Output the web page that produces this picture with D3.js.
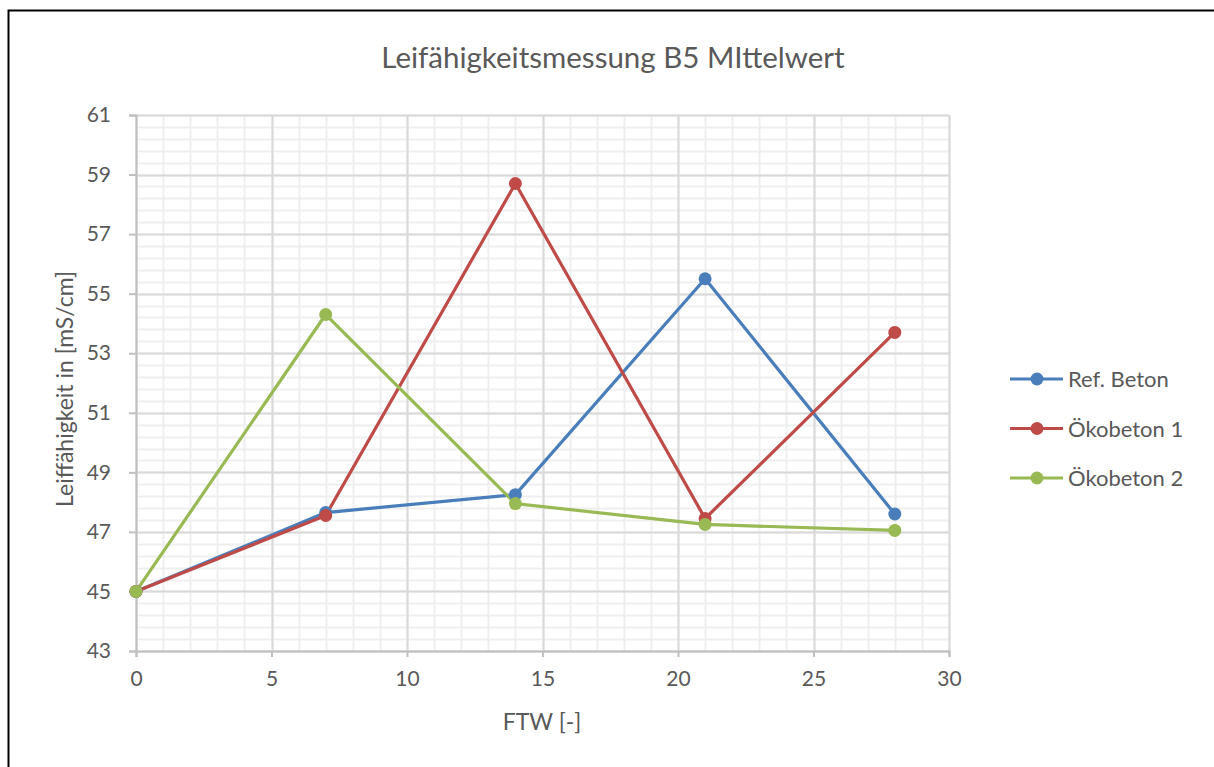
<!DOCTYPE html>
<html>
<head>
<meta charset="utf-8">
<script src="https://cdn.jsdelivr.net/npm/d3@7"></script>
<style>
  html, body { margin: 0; padding: 0; background: #fff; }
  svg { display: block; }
  text { font-family: Lato, "Open Sans", sans-serif; fill: #595959; }
</style>
</head>
<body>
<svg id="chart" width="1214" height="767"></svg>
<script>
// Measurement days (freeze-thaw cycles)
const days = [0, 7, 14, 21, 28];
// Mean conductivity per mix in mS/cm
const refBeton   = [45.0, 47.65, 48.25, 55.5, 47.6];
const oekobeton1 = [45.0, 47.55, 58.7, 47.45, 53.7];
const oekobeton2 = [45.0, 54.3, 47.95, 47.25, 47.05];
const seriesNames = ["Ref. Beton", "Ökobeton 1", "Ökobeton 2"];
const seriesColors = ["#4a7ebb", "#be4b48", "#98b954"];
const xTicks = [0, 5, 10, 15, 20, 25, 30];
const yTicks = [43, 45, 47, 49, 51, 53, 55, 57, 59, 61];

const series = [refBeton, oekobeton1, oekobeton2].map((vals, i) => ({
  name: seriesNames[i],
  color: seriesColors[i],
  points: days.map((d, j) => ({ x: d, y: vals[j] }))
}));

const svg = d3.select("#chart");

// outer chart frame
svg.append("rect")
  .attr("x", 8.5).attr("y", 10.5)
  .attr("width", 1230).attr("height", 800)
  .attr("fill", "#fff").attr("stroke", "#000").attr("stroke-width", 2);

const plot = { left: 136, right: 949, top: 115, bottom: 651 };

const x = d3.scaleLinear().domain([0, 30]).range([plot.left, plot.right]);
const y = d3.scaleLinear().domain([43, 61]).range([plot.bottom, plot.top]);

const g = svg.append("g");

// minor grid
const xMinor = d3.range(0, 30.001, 1);
const yMinor = d3.range(43, 61.001, 0.4);
g.selectAll(".xminor").data(xMinor).join("line")
  .attr("x1", d => Math.round(x(d)) + 0.5).attr("x2", d => Math.round(x(d)) + 0.5)
  .attr("y1", plot.top).attr("y2", plot.bottom)
  .attr("stroke", "#efefef").attr("stroke-width", 2);
g.selectAll(".yminor").data(yMinor).join("line")
  .attr("x1", plot.left).attr("x2", plot.right)
  .attr("y1", d => Math.round(y(d)) + 0.5).attr("y2", d => Math.round(y(d)) + 0.5)
  .attr("stroke", "#efefef").attr("stroke-width", 2);

// major grid
g.selectAll(".xmajor").data(xTicks).join("line")
  .attr("x1", d => Math.round(x(d)) + 0.5).attr("x2", d => Math.round(x(d)) + 0.5)
  .attr("y1", plot.top).attr("y2", plot.bottom)
  .attr("stroke", "#d9d9d9").attr("stroke-width", 2);
g.selectAll(".ymajor").data(yTicks).join("line")
  .attr("x1", plot.left).attr("x2", plot.right)
  .attr("y1", d => Math.round(y(d)) + 0.5).attr("y2", d => Math.round(y(d)) + 0.5)
  .attr("stroke", "#d9d9d9").attr("stroke-width", 2);

// axes
const xAxis = d3.axisBottom(x).tickValues(xTicks).tickSize(6).tickPadding(14);
const yAxis = d3.axisLeft(y).tickValues(yTicks).tickSize(7).tickPadding(18);

const gx = svg.append("g").attr("transform", `translate(0,${plot.bottom})`).call(xAxis);
const gy = svg.append("g").attr("transform", `translate(${plot.left},0)`).call(yAxis);
[gx, gy].forEach(a => {
  a.select(".domain").attr("stroke", "#bfbfbf").attr("stroke-width", 2);
  a.selectAll(".tick line").attr("stroke", "#bfbfbf").attr("stroke-width", 2);
  a.selectAll(".tick text").attr("fill", "#595959")
    .style("font-family", "Lato, sans-serif").style("font-size", "21px");
});

// lines and markers
const line = d3.line().x(d => x(d.x)).y(d => y(d.y));
series.forEach(s => {
  svg.append("path").datum(s.points)
    .attr("d", line).attr("fill", "none")
    .attr("stroke", s.color).attr("stroke-width", 3.2)
    .attr("stroke-linejoin", "round");
});
series.forEach(s => {
  svg.selectAll(null).data(s.points).join("circle")
    .attr("cx", d => x(d.x)).attr("cy", d => y(d.y)).attr("r", 6.5)
    .attr("fill", s.color);
});

// title
svg.append("text")
  .attr("x", 613).attr("y", 68)
  .attr("text-anchor", "middle")
  .style("font-size", "29.5px")
  .text("Leifähigkeitsmessung B5 MIttelwert");

// axis titles
svg.append("text")
  .attr("x", 542).attr("y", 730)
  .attr("text-anchor", "middle")
  .style("font-size", "23px")
  .text("FTW [-]");
svg.append("text")
  .attr("transform", `translate(73,${(plot.top + plot.bottom) / 2 + 6}) rotate(-90)`)
  .attr("text-anchor", "middle")
  .style("font-size", "23px")
  .text("Leiffähigkeit in [mS/cm]");

// legend
const legend = svg.append("g");
series.forEach((s, i) => {
  const ly = 379 + i * 49.5;
  legend.append("line")
    .attr("x1", 1010).attr("x2", 1063).attr("y1", ly).attr("y2", ly)
    .attr("stroke", s.color).attr("stroke-width", 3.2);
  legend.append("circle")
    .attr("cx", 1037).attr("cy", ly).attr("r", 6.5).attr("fill", s.color);
  legend.append("text")
    .attr("x", 1068).attr("y", ly + 8)
    .style("font-size", "22px")
    .text(s.name);
});
</script>
</body>
</html>
